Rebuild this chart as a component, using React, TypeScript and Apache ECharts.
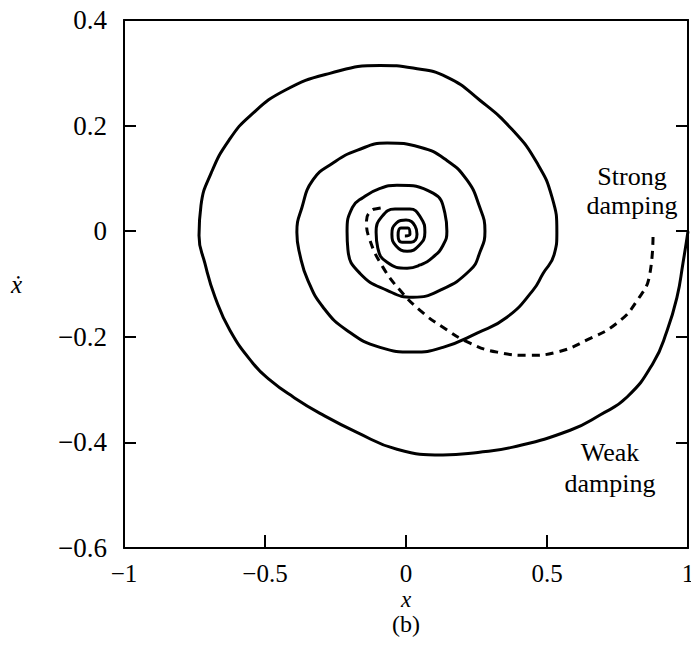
import React, { useEffect, useRef } from "react";
import * as echarts from "echarts";

// Axis ranges / ticks
const xRange = [-1, 1];
const xStep = 0.5;
const yRange = [-0.6, 0.4];
const yStep = 0.2;

// Weak damping trajectory (x, x-dot), clockwise from (1, 0)
const weakTurn1: [number, number][] = [
  [1.0, 0.0], [0.982, -0.061], [0.961, -0.125], [0.926, -0.188], [0.876, -0.25],
  [0.784, -0.314], [0.688, -0.348], [0.582, -0.377], [0.379, -0.409], [0.255, -0.419],
  [0.131, -0.424], [-0.032, -0.413], [-0.174, -0.381], [-0.305, -0.345], [-0.4, -0.314],
  [-0.482, -0.282], [-0.543, -0.25], [-0.624, -0.188], [-0.677, -0.125], [-0.713, -0.061],
  [-0.734, -0.008], [-0.727, 0.049], [-0.691, 0.11], [-0.628, 0.172], [-0.55, 0.22],
  [-0.429, 0.267], [-0.27, 0.299], [-0.092, 0.314], [0.025, 0.309], [0.145, 0.292],
  [0.262, 0.248], [0.379, 0.191], [0.465, 0.129], [0.518, 0.064], [0.535, -0.002],
];
const weakTurn2: [number, number][] = [
  [0.525, -0.045], [0.486, -0.08], [0.45, -0.112], [0.358, -0.163], [0.252, -0.193],
  [0.131, -0.22], [0.025, -0.229], [-0.092, -0.22], [-0.209, -0.188], [-0.294, -0.144],
  [-0.348, -0.093], [-0.376, -0.045], [-0.387, -0.002], [-0.369, 0.045], [-0.33, 0.097],
  [-0.259, 0.129], [-0.174, 0.153], [-0.067, 0.167], [0.05, 0.159], [0.145, 0.134],
  [0.216, 0.097], [0.259, 0.049], [0.28, 0.0],
];
const weakTurn3: [number, number][] = [
  [0.262, -0.04], [0.227, -0.074], [0.12, -0.112], [0.025, -0.125], [-0.067, -0.112],
  [-0.163, -0.08], [-0.206, -0.035], [-0.209, 0.0], [-0.19, 0.045], [-0.152, 0.064],
  [-0.092, 0.081], [-0.032, 0.087], [0.096, 0.072], [0.138, 0.034], [0.145, 0.0],
];
const weakTurn4: [number, number][] = [
  [0.131, -0.027], [0.096, -0.049], [0.05, -0.064], [0.004, -0.07], [-0.067, -0.059],
  [-0.1, -0.032], [-0.106, -0.002], [-0.085, 0.028], [-0.039, 0.042], [0.014, 0.042],
  [0.053, 0.025], [0.067, -0.002], [0.046, -0.027], [0.004, -0.038], [-0.035, -0.028],
  [-0.05, -0.006], [-0.035, 0.015], [0.0, 0.021], [0.032, 0.01], [0.039, -0.006],
  [0.018, -0.021], [-0.014, -0.021], [-0.028, -0.008], [-0.018, 0.006], [0.007, 0.006],
  [0.014, -0.006], [-0.004, -0.009],
];

// Strong damping trajectory (dashed)
const strongPath: [number, number][] = [
  [0.876, -0.011], [0.865, -0.08], [0.82, -0.131], [0.748, -0.174], [0.642, -0.206],
  [0.535, -0.229], [0.44, -0.235], [0.323, -0.229], [0.227, -0.212], [0.131, -0.182],
  [0.05, -0.15], [-0.021, -0.112], [-0.082, -0.068], [-0.128, -0.017], [-0.14, 0.02],
  [-0.125, 0.038], [-0.1, 0.043], [-0.07, 0.045],
];

const weakLabel = "Weak\ndamping";
const strongLabel = "Strong\ndamping";

const SERIF = '"Liberation Serif", "DejaVu Serif", serif';

const fmt = (v: number) => {
  const r = Math.round(v * 10) / 10;
  if (r === 0) return "0";
  return String(r).replace("-", "\u2212");
};

export default function App() {
  const ref = useRef<HTMLDivElement>(null);
  useEffect(() => {
    if (!ref.current) return;
    const chart = echarts.init(ref.current, undefined, { renderer: "svg" });
    const axisLine = { show: true, onZero: false, lineStyle: { color: "#000", width: 2 } };
    const weak = [...weakTurn1, ...weakTurn2, ...weakTurn3, ...weakTurn4];
    chart.setOption({
      animation: false,
      backgroundColor: "#fff",
      grid: {
        left: 124,
        right: 3,
        top: 20,
        bottom: 109,
        containLabel: false,
        outerBoundsMode: "none",
      },
      xAxis: [
        {
          type: "value",
          min: xRange[0],
          max: xRange[1],
          interval: xStep,
          position: "bottom",
          axisLine,
          axisTick: { show: true, inside: true, length: 13, lineStyle: { color: "#000", width: 2 } },
          axisLabel: { color: "#000", fontSize: 25, fontFamily: SERIF, margin: 13, formatter: fmt },
          splitLine: { show: false },
          name: "x",
          nameLocation: "middle",
          nameGap: 40,
          nameMoveOverlap: false,
          nameTextStyle: { color: "#000", fontSize: 23, fontFamily: SERIF, fontStyle: "italic" },
        },
        {
          type: "value",
          min: xRange[0],
          max: xRange[1],
          interval: xStep,
          position: "top",
          axisLine,
          axisTick: { show: false },
          axisLabel: { show: false },
          splitLine: { show: false },
        },
      ],
      yAxis: [
        {
          type: "value",
          min: yRange[0],
          max: yRange[1],
          interval: yStep,
          position: "left",
          axisLine,
          axisTick: { show: true, inside: true, length: 12, lineStyle: { color: "#000", width: 2 } },
          axisLabel: { color: "#000", fontSize: 27, fontFamily: SERIF, margin: 17, formatter: fmt },
          splitLine: { show: false },
          name: "\u1E8B",
          nameLocation: "middle",
          nameRotate: 0,
          nameGap: 102,
          nameMoveOverlap: false,
          nameTextStyle: { color: "#000", fontSize: 25, fontFamily: SERIF, fontStyle: "italic" },
        },
        {
          type: "value",
          min: yRange[0],
          max: yRange[1],
          interval: yStep,
          position: "right",
          axisLine,
          axisTick: { show: true, inside: true, length: 12, lineStyle: { color: "#000", width: 2 } },
          axisLabel: { show: false },
          splitLine: { show: false },
        },
      ],
      series: [
        {
          type: "line",
          name: "Weak damping",
          data: weak,
          showSymbol: false,
          symbol: "none",
          smooth: 0.5,
          lineStyle: { color: "#000", width: 3 },
          z: 3,
        },
        {
          type: "line",
          name: "Strong damping",
          data: strongPath,
          showSymbol: false,
          symbol: "none",
          smooth: 0.5,
          lineStyle: { color: "#000", width: 3, type: [8, 6] },
          z: 2,
        },
      ],
      graphic: [
        {
          type: "text",
          x: 632,
          y: 162,
          style: {
            text: strongLabel,
            fill: "#000",
            fontSize: 26,
            fontFamily: SERIF,
            lineHeight: 29,
            align: "center",
            verticalAlign: "top",
          },
        },
        {
          type: "text",
          x: 610,
          y: 437,
          style: {
            text: weakLabel,
            fill: "#000",
            fontSize: 26,
            fontFamily: SERIF,
            lineHeight: 31,
            align: "center",
            verticalAlign: "top",
          },
        },
        {
          type: "text",
          x: 406,
          y: 612,
          style: {
            text: "(b)",
            fill: "#000",
            fontSize: 24,
            fontFamily: SERIF,
            align: "center",
            verticalAlign: "top",
          },
        },
      ],
    });
    return () => chart.dispose();
  }, []);
  return (
    <div
      ref={ref}
      style={{ position: "fixed", left: 0, top: 0, width: 691, height: 657, background: "#fff" }}
    />
  );
}
